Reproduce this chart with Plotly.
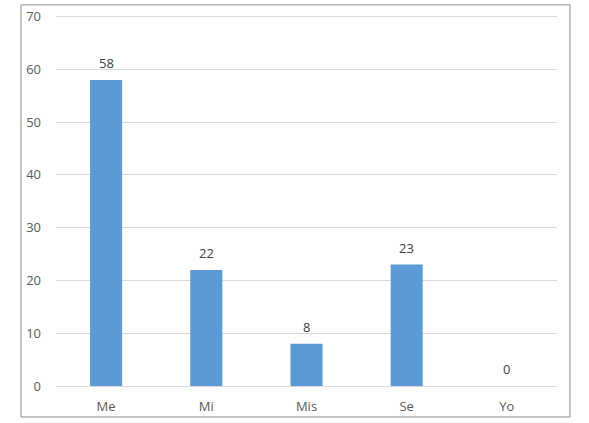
import plotly.graph_objects as go

categories = ["Me", "Mi", "Mis", "Se", "Yo"]
values = [58, 22, 8, 23, 0]
y_ticks = [0, 10, 20, 30, 40, 50, 60, 70]

W, H = 589, 423
Y_MAX = 72
px_per_unit = (386 - 16.7) / 70
l, r, b = 56, 32, 37
ph = px_per_unit * Y_MAX
t = H - b - ph
pw = W - l - r

FONT = "Open Sans, Liberation Sans, sans-serif"

fig = go.Figure(go.Bar(
    x=categories, y=values,
    marker=dict(color="#5B9BD5", line=dict(width=0)),
    hoverinfo="x+y",
))

fig.update_layout(
    width=W, height=H,
    margin=dict(l=l, r=r, t=t, b=b, pad=0),
    paper_bgcolor="white", plot_bgcolor="white",
    bargap=0.68,
    showlegend=False,
    font=dict(family=FONT, size=13, color="#595959"),
    xaxis=dict(showgrid=False, showline=False, ticks="", ticklabelstandoff=11,
               tickfont=dict(size=13, color="#595959")),
    yaxis=dict(range=[0, Y_MAX], tickvals=y_ticks, showgrid=True, gridcolor="#D9D9D9", gridwidth=1,
               zeroline=True, zerolinecolor="#D9D9D9", zerolinewidth=1, showline=False,
               ticks="", ticklabelstandoff=14, tickfont=dict(size=13, color="#595959")),
)

for c, v in zip(categories, values):
    fig.add_annotation(x=c, y=v, text=str(v), showarrow=False, yanchor="bottom",
                       yshift=6, font=dict(size=13, color="#404040", family=FONT))

def px_to_paper_x(px):
    return (px - l) / pw

def px_to_paper_y(py):
    return (H - b - py) / ph

fig.add_shape(type="rect", xref="paper", yref="paper",
              x0=px_to_paper_x(21), x1=px_to_paper_x(570),
              y0=px_to_paper_y(417), y1=px_to_paper_y(5),
              line=dict(color="#8C8C8C", width=1), fillcolor="rgba(0,0,0,0)", layer="below")

fig.write_html("out.html", config={"displayModeBar": False},
               post_script="document.body.style.margin='0';")
